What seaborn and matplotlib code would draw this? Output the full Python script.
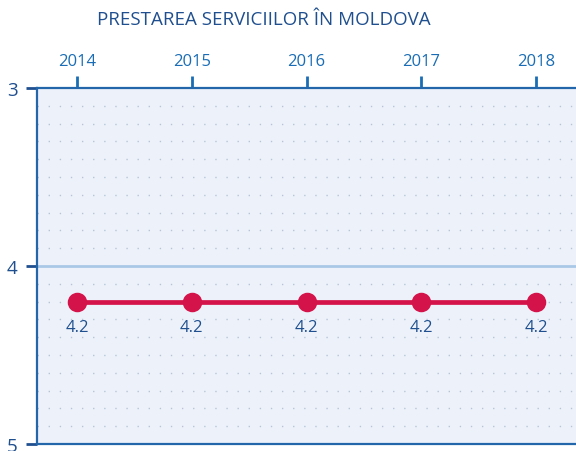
import matplotlib
matplotlib.use("Agg")
import matplotlib.pyplot as plt
import numpy as np
import pandas as pd
import seaborn as sns

years = ["2014", "2015", "2016", "2017", "2018"]
scores = [4.2, 4.2, 4.2, 4.2, 4.2]
labels = ["4.2", "4.2", "4.2", "4.2", "4.2"]
title = "PRESTAREA SERVICIILOR ÎN MOLDOVA"

sns.set_style("white")
plt.rcParams['font.family'] = ['Open Sans', 'DejaVu Sans']

blue = "#1a6db5"
dark = "#1f4f8f"
red = "#d5134b"

df = pd.DataFrame({"year": years, "score": scores})

fig = plt.figure(figsize=(5.76, 4.52), dpi=100)
ax = fig.add_axes([37 / 576, 7 / 452, 539 / 576, 356 / 452])
ax.set_facecolor("#edf2fa")

# dotted minor grid every 0.1, solid line at 4
for yv in np.arange(3.1, 5.0, 0.1):
    if abs(yv - 4) < 1e-6:
        continue
    ax.axhline(yv, color="#b8c4d6", lw=1.0, ls=(0, (1, 7)), zorder=1)
ax.axhline(4, color="#a9c8e6", lw=2, zorder=1)

sns.pointplot(data=df, x="year", y="score", color=red, markers="o",
              markersize=11.5, linewidth=3.4, ax=ax, zorder=3)

for i, (v, t) in enumerate(zip(scores, labels)):
    ax.text(i, v + 0.14, t, ha="center", va="center", fontsize=12, color=dark)

ax.set_xlim(-0.348, 4.348)
ax.set_ylim(5, 3)
ax.set_yticks([3, 4, 5])
ax.set_xlabel("")
ax.set_ylabel("")
ax.xaxis.tick_top()
ax.tick_params(axis="x", colors=blue, length=9, width=2, labelsize=12, pad=5,
               direction="out", top=True, bottom=False, labeltop=True, labelbottom=False)
ax.tick_params(axis="y", colors=dark, length=8, width=2, labelsize=13.5, pad=6,
               direction="out", left=True)
for lbl in ax.get_xticklabels():
    lbl.set_color(blue)

for s in ["left", "top", "bottom"]:
    ax.spines[s].set_color("#2366aa")
    ax.spines[s].set_linewidth(1.6)
ax.spines["right"].set_visible(False)

fig.text(264 / 576, 1 - 20 / 452, title, ha="center", va="center",
         fontsize=13.5, color=dark)

fig.savefig("out.png", dpi=100)
